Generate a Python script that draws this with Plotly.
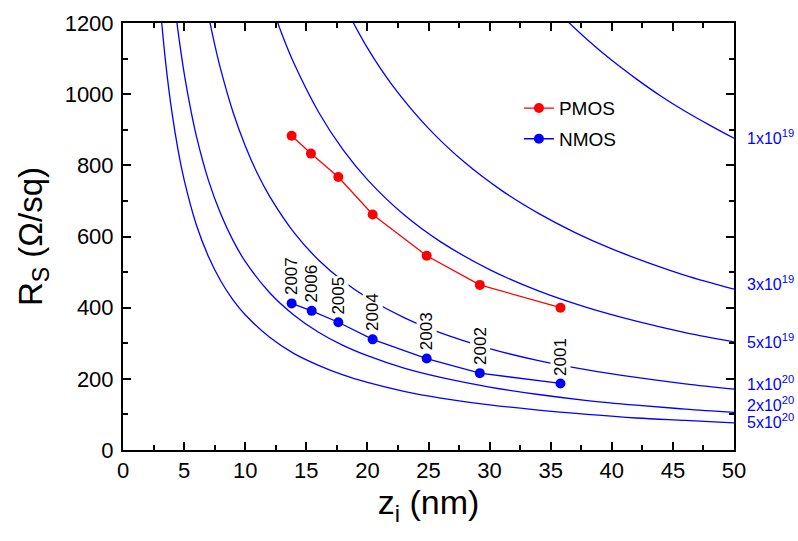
import plotly.graph_objects as go

# ---- data ----
years = ["2001", "2002", "2003", "2004", "2005", "2006", "2007"]
nmos_z = [35.8, 29.2, 24.85, 20.43, 17.62, 15.44, 13.8]
nmos_rs = [187, 216, 257, 311, 359, 391, 412]
pmos_z = [35.8, 29.2, 24.85, 20.43, 17.62, 15.38, 13.8]
pmos_rs = [400, 464, 546, 662, 767, 833, 883]

curve_labels = ["1x10<sup>19</sup>", "3x10<sup>19</sup>", "5x10<sup>19</sup>",
                "1x10<sup>20</sup>", "2x10<sup>20</sup>", "5x10<sup>20</sup>"]
c1e19_z = [36, 38, 40, 42, 44, 46, 48, 50]
c1e19_rs = [1217, 1153, 1095, 1043, 995, 952, 913, 876]
c3e19_z = [18, 20, 22, 25, 28, 31, 34, 37, 40, 43, 46, 50]
c3e19_rs = [1256, 1130, 1027, 904, 807, 729, 665, 611, 565, 526, 491, 452]
c5e19_z = [12, 13, 14, 16, 18, 20, 23, 26, 30, 34, 38, 42, 46, 50]
c5e19_rs = [1267, 1169, 1086, 950, 844, 760, 661, 585, 507, 447, 400, 362, 330, 304]
c1e20_z = [7, 7.5, 8, 9, 10, 11, 12, 14, 16, 18, 20, 23, 26, 30, 34, 38, 42, 46, 50]
c1e20_rs = [1221, 1140, 1069, 950, 855, 777, 713, 611, 534, 475, 428, 372, 329, 285, 251, 225, 204, 186, 171]
c2e20_z = [4.3, 4.5, 5, 5.5, 6, 7, 8, 9, 10, 12, 14, 16, 18, 20, 23, 26, 30, 34, 38, 42, 46, 50]
c2e20_rs = [1233, 1178, 1060, 964, 883, 757, 663, 589, 530, 442, 379, 331, 294, 265, 230, 204, 177, 156, 139, 126, 115, 106]
c5e20_z = [3.1, 3.5, 4, 4.5, 5, 6, 7, 8, 9, 10, 12, 14, 16, 18, 20, 23, 26, 30, 34, 38, 42, 46, 50]
c5e20_rs = [1226, 1086, 950, 844, 760, 633, 543, 475, 422, 380, 317, 271, 238, 211, 190, 165, 146, 127, 112, 100, 90, 83, 76]

curves = [(c1e19_z, c1e19_rs), (c3e19_z, c3e19_rs), (c5e19_z, c5e19_rs),
          (c1e20_z, c1e20_rs), (c2e20_z, c2e20_rs), (c5e20_z, c5e20_rs)]
# label vertical placement (data units on the Rs axis)
label_y = [880, 469, 306, 188, 129, 82]

FONT = "Liberation Sans, Arial, sans-serif"
BLUE = "#0000FF"
RED = "#FF0000"

fig = go.Figure()
for cz, crs in curves:
    fig.add_trace(go.Scatter(x=cz, y=crs, mode="lines", line=dict(color=BLUE, width=1.3, shape="spline"),
                             showlegend=False, hoverinfo="skip", cliponaxis=True))

fig.add_trace(go.Scatter(x=pmos_z, y=pmos_rs, mode="lines+markers", name="PMOS",
                         line=dict(color=RED, width=1.3), marker=dict(color=RED, size=10),
                         legendgroup="p"))
fig.add_trace(go.Scatter(x=nmos_z, y=nmos_rs, mode="lines+markers", name="NMOS",
                         line=dict(color=BLUE, width=1.3), marker=dict(color=BLUE, size=10),
                         legendgroup="n"))

for yr, z, r in zip(years, nmos_z, nmos_rs):
    fig.add_annotation(x=z, y=r, text=yr, textangle=-90, showarrow=False, xref="x", yref="y",
                       yanchor="bottom", yshift=7, bgcolor="white", borderpad=0,
                       font=dict(family=FONT, size=17, color="black"))

for lbl, ly in zip(curve_labels, label_y):
    fig.add_annotation(x=1, y=ly, xref="paper", yref="y", text=lbl, showarrow=False,
                       xanchor="left", xshift=11, font=dict(family=FONT, size=16, color=BLUE))

axis_common = dict(showline=True, linecolor="black", linewidth=2, mirror="ticks",
                   ticks="inside", ticklen=8, tickwidth=2, tickcolor="black",
                   showgrid=False, zeroline=False,
                   tickfont=dict(family=FONT, size=22, color="black"))

fig.update_xaxes(range=[0, 50], dtick=5, tick0=0,
                 minor=dict(dtick=2.5, ticks="inside", ticklen=5, tickwidth=1.5, tickcolor="black"),
                 title=dict(text="z<sub>i</sub> (nm)", font=dict(family=FONT, size=34, color="black"), standoff=6),
                 ticklabelstandoff=0, **axis_common)
fig.update_yaxes(range=[0, 1200], dtick=200, tick0=0,
                 minor=dict(dtick=100, ticks="inside", ticklen=5, tickwidth=1.5, tickcolor="black"),
                 title=dict(text="R<sub>S</sub> (Ω/sq)", font=dict(family=FONT, size=33, color="black"), standoff=12),
                 ticklabelstandoff=3, **axis_common)

fig.update_layout(
    width=798, height=541,
    margin=dict(l=123, r=64, t=23, b=91),
    paper_bgcolor="white", plot_bgcolor="white",
    font=dict(family=FONT),
    legend=dict(x=0.648, y=0.845, xanchor="left", yanchor="top", bgcolor="rgba(0,0,0,0)",
                font=dict(family=FONT, size=19, color="black"), tracegroupgap=3,
                traceorder="grouped"),
)

fig.write_html("out.html")
